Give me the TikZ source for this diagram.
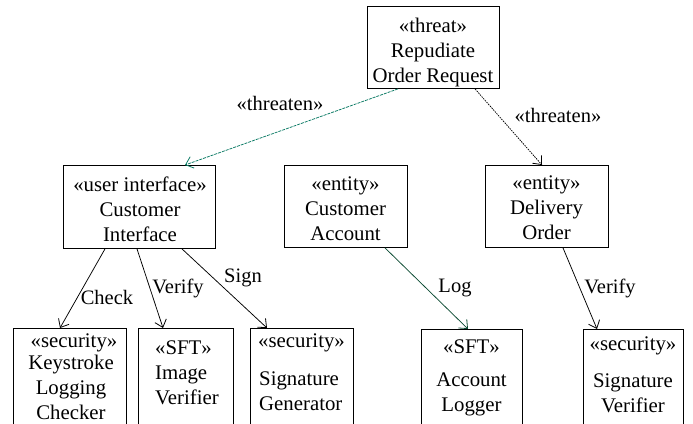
\documentclass[tikz,border=0pt]{standalone}
\usepackage{fontspec}
\setmainfont{Liberation Serif}
\usetikzlibrary{arrows.meta,calc}
\definecolor{threatgreen}{HTML}{0A7A64}
\definecolor{loggreen}{HTML}{0B4A32}
\tikzset{
  x=1pt, y=-1pt,
  every node/.style={font=\fontsize{20.8}{25}\selectfont},
  umlbox/.style={draw, line width=0.9pt, inner sep=0pt},
  boxtext/.style={align=center, inner sep=0pt},
  lbl/.style={inner sep=0pt, font=\fontsize{20.5}{24}\selectfont},
  link/.style={line width=0.75pt, -{Straight Barb[length=7pt,width=12pt,line width=0.8pt]}},
  threatlink/.style={link, draw=threatgreen, dash pattern=on 3pt off 1pt},
  dotlink/.style={link, dash pattern=on 1.5pt off 1pt},
  loglink/.style={link, draw=loggreen},
}
\newcommand{\umlbox}[5]{% name, left, top, right, bottom
  \node[umlbox, anchor=north west, minimum width={#4-#2}, minimum height={#5-#3}] (#1) at (#2,#3) {};}
\begin{document}
\begin{tikzpicture}
\useasboundingbox (0,0) rectangle (693,423);
\clip (0,0) rectangle (693,423);
\fill[white] (0,0) rectangle (693,423);

% threat
\umlbox{threat}{367}{6}{499}{88}
\node[boxtext] (threatT) at (433,52) {«threat»\\Repudiate\\Order Request};

% middle row
\umlbox{ci}{63}{165}{215}{248}
\node[boxtext] (ciT) at (140,209) {«user interface»\\Customer\\Interface};
\umlbox{ca}{284}{165}{407}{247}
\node[boxtext] (caT) at (345.5,209) {«entity»\\Customer\\Account};
\umlbox{do}{485}{165}{608}{247}
\node[boxtext] (doT) at (546.5,208) {«entity»\\Delivery\\Order};

% bottom row (boxes run past the lower edge)
\umlbox{ks}{13}{328}{126}{440}
\node[boxtext] (ks1) at (74,343) {«security»};
\node[boxtext] (ks2) at (71,387) {Keystroke\\Logging\\Checker};
\umlbox{iv}{138}{328}{233}{440}
\node[boxtext, align=left, anchor=north west] (ivT) at (155,341) {«SFT»\\Image\\Verifier};
\umlbox{sg}{250}{328}{353}{440}
\node[boxtext, anchor=west] (sg1) at (258,343) {«security»};
\node[boxtext, align=left, anchor=north west] (sg2) at (259,372) {Signature\\Generator};
\umlbox{al}{421}{329}{522}{440}
\node[boxtext] (al1) at (471.5,347) {«SFT»};
\node[boxtext] (al2) at (471.5,394) {Account\\Logger};
\umlbox{sv}{583}{329}{683}{440}
\node[boxtext] (sv1) at (633,346) {«security»};
\node[boxtext] (sv2) at (633,393) {Signature\\Verifier};

% connectors
\draw[threatlink] ([xshift=31pt]threat.south west) -- ([xshift=122pt]ci.north west);
\draw[dotlink] ([xshift=108pt]threat.south west) -- ([xshift=57pt]do.north west);
\draw[link] ([xshift=42pt]ci.south west) -- ([xshift=47pt]ks.north west);
\draw[link] ([xshift=74pt]ci.south west) -- ([xshift=25pt]iv.north west);
\draw[link] ([xshift=119pt]ci.south west) -- ([xshift=17pt]sg.north west);
\draw[loglink] ([xshift=101pt]ca.south west) -- ([xshift=47pt]al.north west);
\draw[link] ([xshift=78pt]do.south west) -- ([xshift=14pt]sv.north west);

% connector labels
\node[lbl] (l1) at (280,103) {«threaten»};
\node[lbl] (l2) at (558,115) {«threaten»};
\node[lbl] (l3) at (107,297) {Check};
\node[lbl] (l4) at (178,288) {Verify};
\node[lbl] (l5) at (243,278) {Sign};
\node[lbl] (l6) at (455,288) {Log};
\node[lbl] (l7) at (610,288) {Verify};
\end{tikzpicture}
\end{document}
